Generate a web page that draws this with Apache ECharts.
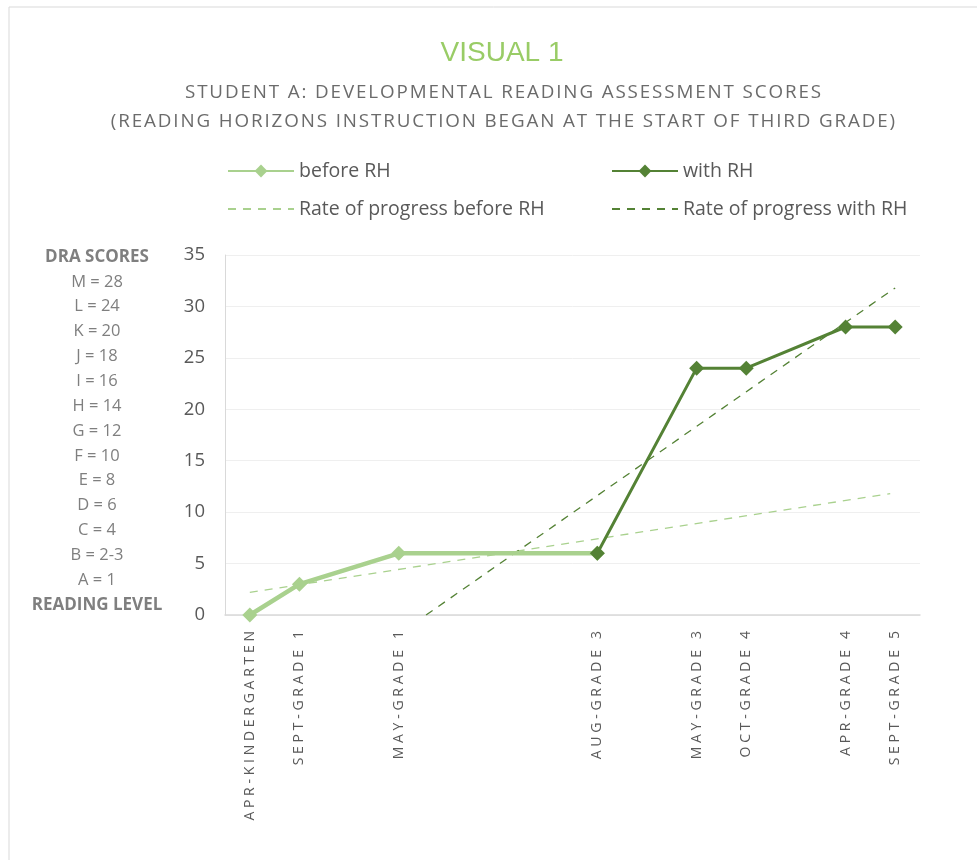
<!DOCTYPE html>
<html>
<head>
<meta charset="utf-8">
<script src="https://cdn.jsdelivr.net/npm/echarts@6/dist/echarts.min.js"></script>
<style>
  html, body { margin: 0; padding: 0; background: #fff; }
  #chart { width: 977px; height: 860px; }
</style>
</head>
<body>
<div id="chart"></div>
<script>
  // slots on the time axis (empty = no label)
  const slotLabels = ['APR-KINDERGARTEN', 'SEPT-GRADE 1', '', 'MAY-GRADE 1', '', '', '', 'AUG-GRADE 3',
    '', 'MAY-GRADE 3', 'OCT-GRADE 4', '', 'APR-GRADE 4', 'SEPT-GRADE 5']

  const beforeX = [0, 1, 3, 7]
  const beforeY = [0, 3, 6, 6]
  const withX = [7, 9, 10, 12, 13]
  const withY = [6, 24, 24, 28, 28]

  // trendline end points
  const trendBeforeX = [0, 12.9]
  const trendBeforeY = [2.2, 11.8]
  const trendWithX = [3.55, 13]
  const trendWithY = [0, 31.8]

  const yTicks = [0, 5, 10, 15, 20, 25, 30, 35]
  const draLabels = ['M = 28', 'L = 24', 'K = 20', 'J = 18', 'I = 16', 'H = 14', 'G = 12',
    'F = 10', 'E = 8', 'D = 6', 'C = 4', 'B = 2-3', 'A = 1']

  const subtitle = ['STUDENT A: DEVELOPMENTAL READING ASSESSMENT SCORES',
    '(READING HORIZONS INSTRUCTION BEGAN AT THE START OF THIRD GRADE)']

  const LIGHT = '#a9d18e'
  const DARK = '#548235'
  const GREY = '#595959'

  const pairs = (xs, ys) => xs.map((x, i) => [x, ys[i]])
  const spaced = (s, sep) => s.split('').join(sep)

  const draText = [{ text: 'DRA SCORES', bold: true }]
    .concat(draLabels.map(t => ({ text: t })))
    .concat([{ text: 'READING LEVEL', bold: true }])
    .map((d, i) => ({
      type: 'text',
      x: 97,
      y: 257 + i * 24.85,
      style: {
        text: d.text,
        align: 'center',
        verticalAlign: 'middle',
        fill: '#7f7f7f',
        font: (d.bold ? 'bold 17px ' : '16.5px ') + '"Open Sans", sans-serif'
      }
    }))

  const chart = echarts.init(document.getElementById('chart'))
  chart.setOption({
    backgroundColor: '#fff',
    textStyle: { fontFamily: '"Open Sans", sans-serif' },
    title: [{
      text: 'VISUAL 1',
      left: 497,
      textAlign: 'center',
      top: 34,
      textStyle: { color: '#99cc66', fontSize: 28, fontWeight: 'normal', fontFamily: '"Liberation Sans Narrow", sans-serif' }
    }, {
      text: subtitle.map(s => spaced(s, '\u200a')).join('\n'),
      left: 498,
      textAlign: 'center',
      top: 73,
      textStyle: { color: '#6b6b6b', fontSize: 18.8, fontWeight: 'normal', lineHeight: 29, align: 'center' }
    }],
    legend: [{
      left: 222,
      top: 156,
      orient: 'vertical',
      itemGap: 18,
      itemWidth: 66,
      itemHeight: 16,
      data: ['before RH', { name: 'Rate of progress before RH', itemStyle: { opacity: 0 } }],
      textStyle: { color: GREY, fontSize: 19.5 }
    }, {
      left: 606,
      top: 156,
      orient: 'vertical',
      itemGap: 18,
      itemWidth: 66,
      itemHeight: 16,
      data: ['with RH', { name: 'Rate of progress with RH', itemStyle: { opacity: 0 } }],
      textStyle: { color: GREY, fontSize: 19.5 }
    }],
    graphic: draText.concat([{
      type: 'rect',
      shape: { x: 9, y: 7, width: 1000, height: 900 },
      style: { fill: 'none', stroke: '#d9d9d9', lineWidth: 1 },
      silent: true
    }]),
    grid: { left: 225, right: 57, top: 255, bottom: 245 },
    xAxis: [{
      type: 'category',
      boundaryGap: true,
      data: slotLabels,
      axisLine: { show: true, lineStyle: { color: '#d9d9d9', width: 1.5 } },
      axisTick: { show: false },
      axisLabel: {
        interval: 0,
        rotate: 90,
        color: GREY,
        fontSize: 14,
        margin: 16,
        formatter: v => spaced(v, '\u2009\u200a')
      },
      splitLine: { show: false }
    }, {
      type: 'value',
      min: -0.5,
      max: 13.5,
      show: false,
      splitLine: { show: false }
    }],
    yAxis: {
      type: 'value',
      min: yTicks[0],
      max: yTicks[yTicks.length - 1],
      interval: 5,
      axisLine: { show: true, onZero: false, lineStyle: { color: '#d9d9d9' } },
      axisTick: { show: false },
      axisLabel: { color: GREY, fontSize: 18.5, margin: 20 },
      splitLine: { lineStyle: { color: '#efefef' } }
    },
    series: [{
      name: 'before RH',
      type: 'line',
      xAxisIndex: 1,
      data: pairs(beforeX, beforeY),
      symbol: 'diamond',
      symbolSize: 15,
      lineStyle: { color: LIGHT, width: 4.5 },
      itemStyle: { color: LIGHT },
      z: 3
    }, {
      name: 'with RH',
      type: 'line',
      xAxisIndex: 1,
      data: pairs(withX, withY),
      symbol: 'diamond',
      symbolSize: 15,
      lineStyle: { color: DARK, width: 3 },
      itemStyle: { color: DARK },
      z: 4
    }, {
      name: 'Rate of progress before RH',
      type: 'line',
      xAxisIndex: 1,
      data: pairs(trendBeforeX, trendBeforeY),
      symbol: 'none',
      lineStyle: { color: LIGHT, width: 1.3, type: [8, 7] },
      itemStyle: { color: LIGHT },
      z: 2
    }, {
      name: 'Rate of progress with RH',
      type: 'line',
      xAxisIndex: 1,
      data: pairs(trendWithX, trendWithY),
      symbol: 'none',
      lineStyle: { color: DARK, width: 1.3, type: [8, 7] },
      itemStyle: { color: DARK },
      z: 2
    }]
  })
</script>
</body>
</html>
